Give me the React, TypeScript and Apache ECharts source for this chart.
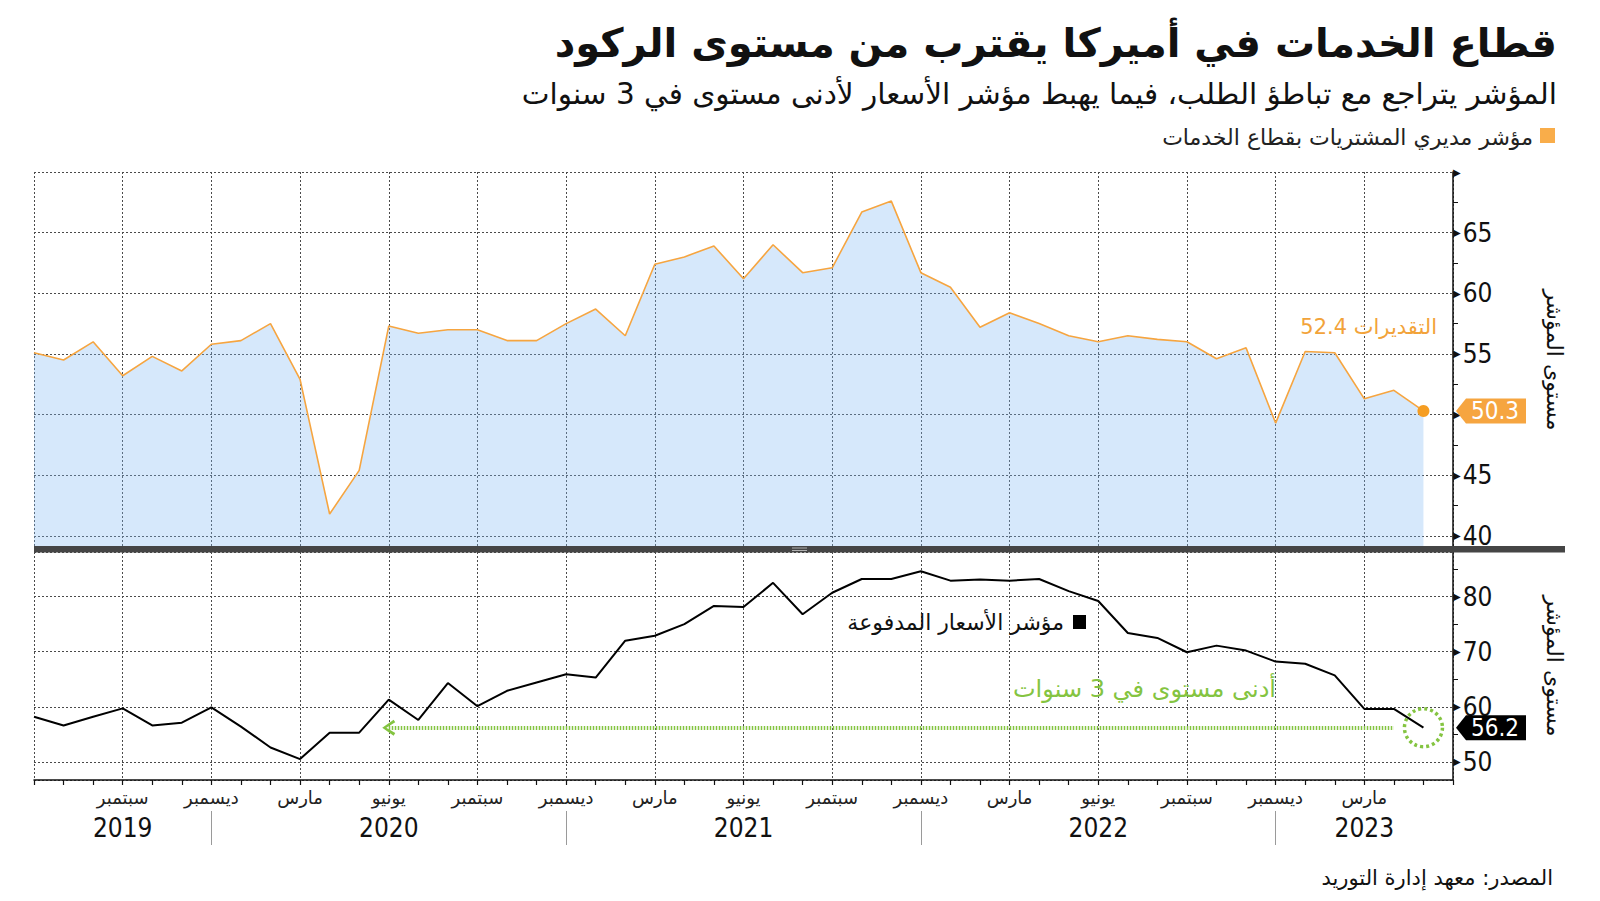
import React, { useEffect, useRef } from 'react';
import * as echarts from 'echarts';

// ---------- DATA ----------
const categories = [
  '2019-06', '2019-07', '2019-08', '2019-09', '2019-10', '2019-11', '2019-12',
  '2020-01', '2020-02', '2020-03', '2020-04', '2020-05', '2020-06', '2020-07', '2020-08', '2020-09', '2020-10', '2020-11', '2020-12',
  '2021-01', '2021-02', '2021-03', '2021-04', '2021-05', '2021-06', '2021-07', '2021-08', '2021-09', '2021-10', '2021-11', '2021-12',
  '2022-01', '2022-02', '2022-03', '2022-04', '2022-05', '2022-06', '2022-07', '2022-08', '2022-09', '2022-10', '2022-11', '2022-12',
  '2023-01', '2023-02', '2023-03', '2023-04', '2023-05', '2023-06',
];

// ISM services PMI (top panel)
const servicesPmi = [
  55.1, 54.5, 56.0, 53.2, 54.8, 53.6, 55.8,
  56.1, 57.5, 52.9, 41.8, 45.4, 57.3, 56.7, 57.0, 57.0, 56.1, 56.1, 57.5,
  58.7, 56.5, 62.4, 63.0, 63.9, 61.2, 64.0, 61.7, 62.1, 66.7, 67.6, 61.7,
  60.5, 57.2, 58.4, 57.5, 56.5, 56.0, 56.5, 56.2, 56.0, 54.6, 55.5, 49.3,
  55.2, 55.1, 51.3, 52.0, 50.3, null,
];

// Prices paid index (bottom panel)
const pricesPaid = [
  58.2, 56.6, 58.2, 59.7, 56.6, 57.1, 59.9,
  56.4, 52.6, 50.5, 55.3, 55.3, 61.3, 57.6, 64.3, 60.1, 62.9, 64.4, 65.9,
  65.3, 72.0, 72.9, 75.0, 78.3, 78.1, 82.5, 76.8, 80.7, 83.2, 83.2, 84.6,
  82.9, 83.1, 82.9, 83.2, 81.0, 79.2, 73.4, 72.5, 69.9, 71.1, 70.2, 68.2,
  67.8, 65.7, 59.6, 59.6, 56.2, null,
];

const monthNames: Record<string, string> = {
  '03': 'مارس',
  '06': 'يونيو',
  '09': 'سبتمبر',
  '12': 'ديسمبر',
};

const yearLabels: Record<string, string> = {
  '2019-09': '2019',
  '2020-06': '2020',
  '2021-06': '2021',
  '2022-06': '2022',
  '2023-03': '2023',
};

const yearBreaks = ['2019-12', '2020-12', '2021-12', '2022-12'];

const lastIdx = 47;
const lowStartIdx = 12; // June 2020, previous comparable level
const lowEndIdx = 46;

// ---------- STYLE ----------
const ORANGE = '#f6a540';
const GREEN = '#84c441';
const GRID_LINE = { color: '#4a4a4a', width: 1, type: [2, 2] as number[] };
const ARROW_BOX = 'path://M0,12 L10,0 L70,0 L70,24 L10,24 Z';
const CHEVRON = 'path://M0,14 L9,0 L18,14 L15,16 L9,5 L3,16 Z';
const AR_FONT = 'DejaVu Sans';
const NUM_FONT = 'DejaVu Sans Condensed';

export default function App() {
  const ref = useRef<HTMLDivElement>(null);

  useEffect(() => {
    if (!ref.current) return;
    const chart = echarts.init(ref.current, undefined, { renderer: 'svg' });

    const yLabel = (hide: number[], step: number, top?: number) => ({
      margin: 0,
      formatter: (v: number) => {
        const r = Math.round(v * 10) / 10;
        if (Math.abs(r % step) > 1e-6) return '';
        if (r === top || hide.includes(r)) return '{t|▶}';
        return `{t|▶}{v|${r}}`;
      },
      rich: {
        t: { fontSize: 10, color: '#111', fontFamily: AR_FONT, padding: [0, 2, 0, 0] },
        v: { fontSize: 26, color: '#111', fontFamily: NUM_FONT },
      },
    });

    const option: any = {
      animation: false,
      backgroundColor: '#ffffff',
      textStyle: { fontFamily: AR_FONT },
      grid: [
        { left: 34, right: 147, top: 172, height: 376 },
        { left: 34, right: 147, top: 552, height: 228 },
        { left: 34, right: 147, top: 811, height: 34 },
      ],
      xAxis: [
        {
          gridIndex: 0,
          type: 'category',
          data: categories,
          boundaryGap: false,
          axisLine: { show: false },
          axisTick: { show: false },
          axisLabel: { show: false },
          splitLine: { show: true, interval: (i: number) => i % 3 === 0, lineStyle: GRID_LINE },
        },
        {
          gridIndex: 1,
          type: 'category',
          data: categories,
          boundaryGap: false,
          axisLine: { show: true, onZero: false, lineStyle: { color: '#111', width: 1.5 } },
          axisTick: { show: true, interval: 0, length: 5, lineStyle: { color: '#111', width: 1.2 } },
          axisLabel: {
            interval: (i: number) => i % 3 === 0 && i > 0 && i < categories.length - 1,
            margin: 6,
            formatter: (val: string) => {
              const name = monthNames[val.slice(5)] || '';
              const y = yearLabels[val];
              return y ? `{m|${name}}\n{y|${y}}` : `{m|${name}}`;
            },
            rich: {
              m: { fontSize: 18, lineHeight: 22, color: '#222', fontFamily: AR_FONT },
              y: { fontSize: 26, lineHeight: 39, color: '#111', fontFamily: NUM_FONT },
            },
          },
          splitLine: { show: true, interval: (i: number) => i % 3 === 0, lineStyle: GRID_LINE },
        },
        {
          gridIndex: 2,
          type: 'category',
          data: categories,
          boundaryGap: false,
          axisLine: { show: false },
          axisTick: { show: false },
          axisLabel: { show: false },
          splitLine: {
            show: true,
            interval: (i: number) => yearBreaks.includes(categories[i]),
            lineStyle: { color: '#9a9a9a', width: 1, type: 'solid' },
          },
        },
      ],
      yAxis: [
        {
          gridIndex: 0,
          type: 'value',
          position: 'right',
          min: 39,
          max: 70,
          splitNumber: 5,
          axisLine: { show: true, onZero: false, lineStyle: { color: '#111', width: 1.5 } },
          axisTick: { show: false },
          minorTick: { show: true, splitNumber: 2, length: 5, lineStyle: { color: '#111', width: 1 } },
          splitLine: { show: true, lineStyle: GRID_LINE },
          axisLabel: yLabel([50], 5, 70),
          name: 'مستوى المؤشر',
          nameLocation: 'middle',
          nameRotate: -90,
          nameGap: 90,
          nameTextStyle: { fontSize: 22, color: '#111', fontFamily: AR_FONT },
        },
        {
          gridIndex: 1,
          type: 'value',
          position: 'right',
          min: 46.7,
          max: 88.1,
          splitNumber: 5,
          axisLine: { show: true, onZero: false, lineStyle: { color: '#111', width: 1.5 } },
          axisTick: { show: false },
          minorTick: { show: true, splitNumber: 2, length: 5, lineStyle: { color: '#111', width: 1 } },
          splitLine: { show: true, lineStyle: GRID_LINE },
          axisLabel: yLabel([], 10),
          name: 'مستوى المؤشر',
          nameLocation: 'middle',
          nameRotate: -90,
          nameGap: 90,
          nameTextStyle: { fontSize: 22, color: '#111', fontFamily: AR_FONT },
        },
        {
          gridIndex: 2,
          type: 'value',
          show: false,
          min: 0,
          max: 1,
        },
      ],
      series: [
        {
          name: 'مؤشر مديري المشتريات بقطاع الخدمات',
          type: 'line',
          xAxisIndex: 0,
          yAxisIndex: 0,
          data: servicesPmi,
          symbol: 'none',
          silent: true,
          lineStyle: { color: ORANGE, width: 1.6 },
          areaStyle: { color: 'rgba(128,184,242,0.46)', origin: 'start' },
          markPoint: {
            silent: true,
            data: [
              {
                coord: [categories[lastIdx], servicesPmi[lastIdx]],
                symbol: 'circle',
                symbolSize: 12,
                itemStyle: { color: '#f59d22' },
                label: { show: false },
              },
              {
                coord: [categories[lastIdx + 1], servicesPmi[lastIdx]],
                symbol: ARROW_BOX,
                symbolSize: [70, 25],
                symbolOffset: [38, 0],
                symbolKeepAspect: false,
                itemStyle: { color: ORANGE },
                label: {
                  show: true,
                  position: 'inside',
                  formatter: String(servicesPmi[lastIdx]),
                  color: '#fff',
                  fontSize: 24,
                  fontFamily: NUM_FONT,
                  offset: [4, 0],
                },
              },
            ],
          },
        },
        {
          name: 'مؤشر الأسعار المدفوعة',
          type: 'line',
          xAxisIndex: 1,
          yAxisIndex: 1,
          data: pricesPaid,
          symbol: 'none',
          silent: true,
          lineStyle: { color: '#000', width: 2 },
          markLine: {
            silent: true,
            symbol: [CHEVRON, 'none'],
            symbolSize: [16, 13],
            label: { show: false },
            emphasis: { disabled: true },
            lineStyle: { color: GREEN, width: 4, type: [1.5, 1.5] },
            data: [
              [
                { coord: [categories[lowStartIdx], pricesPaid[lastIdx]] },
                { coord: [categories[lowEndIdx], pricesPaid[lastIdx]] },
              ],
            ],
          },
          markPoint: {
            silent: true,
            data: [
              {
                coord: [categories[lastIdx], pricesPaid[lastIdx]],
                symbol: 'circle',
                symbolSize: 38,
                itemStyle: { color: 'rgba(0,0,0,0)', borderColor: GREEN, borderWidth: 3.5, borderType: [3, 3] },
                label: { show: false },
              },
              {
                coord: [categories[lastIdx + 1], pricesPaid[lastIdx]],
                symbol: ARROW_BOX,
                symbolSize: [70, 25],
                symbolOffset: [38, 0],
                symbolKeepAspect: false,
                itemStyle: { color: '#000' },
                label: {
                  show: true,
                  position: 'inside',
                  formatter: String(pricesPaid[lastIdx]),
                  color: '#fff',
                  fontSize: 24,
                  fontFamily: NUM_FONT,
                  offset: [4, 0],
                },
              },
            ],
          },
        },
      ],
      graphic: [
        {
          type: 'text', x: 1557, y: 43, z: 100,
          style: {
            text: 'قطاع الخدمات في أميركا يقترب من مستوى الركود',
            fontSize: 40, fontWeight: 'bold', fontFamily: AR_FONT, fill: '#111',
            align: 'right', verticalAlign: 'middle',
          },
        },
        {
          type: 'text', x: 1557, y: 94, z: 100,
          style: {
            text: 'المؤشر يتراجع مع تباطؤ الطلب، فيما يهبط مؤشر الأسعار لأدنى مستوى في 3 سنوات',
            fontSize: 29.5, fontFamily: AR_FONT, fill: '#111',
            align: 'right', verticalAlign: 'middle',
          },
        },
        { type: 'rect', z: 100, shape: { x: 1540, y: 128, width: 15, height: 15 }, style: { fill: '#f9ad4a' } },
        {
          type: 'text', x: 1533, y: 137, z: 100,
          style: {
            text: 'مؤشر مديري المشتريات بقطاع الخدمات',
            fontSize: 22, fontFamily: AR_FONT, fill: '#222',
            align: 'right', verticalAlign: 'middle',
          },
        },
        { type: 'rect', z: 100, shape: { x: 34, y: 546, width: 1531, height: 6.5 }, style: { fill: '#454545' } },
        { type: 'rect', z: 101, shape: { x: 792, y: 547.5, width: 15, height: 1 }, style: { fill: '#b0b0b0' } },
        { type: 'rect', z: 101, shape: { x: 792, y: 550, width: 15, height: 1 }, style: { fill: '#b0b0b0' } },
        {
          type: 'text', x: 1437, y: 327, z: 100,
          style: {
            text: 'التقديرات 52.4',
            fontSize: 21, fontFamily: AR_FONT, fill: '#f2a33a',
            align: 'right', verticalAlign: 'middle',
          },
        },
        { type: 'rect', z: 100, shape: { x: 1073, y: 615, width: 13, height: 14 }, style: { fill: '#000' } },
        {
          type: 'text', x: 1064, y: 622, z: 100,
          style: {
            text: 'مؤشر الأسعار المدفوعة',
            fontSize: 22, fontFamily: AR_FONT, fill: '#111',
            align: 'right', verticalAlign: 'middle',
          },
        },
        {
          type: 'text', x: 1276, y: 689, z: 100,
          style: {
            text: 'أدنى مستوى في 3 سنوات',
            fontSize: 24, fontFamily: AR_FONT, fill: GREEN,
            align: 'right', verticalAlign: 'middle',
          },
        },
        {
          type: 'text', x: 1553, y: 878, z: 100,
          style: {
            text: 'المصدر: معهد إدارة التوريد',
            fontSize: 21, fontFamily: AR_FONT, fill: '#111',
            align: 'right', verticalAlign: 'middle',
          },
        },
      ],
    };

    chart.setOption(option);
    return () => chart.dispose();
  }, []);

  return (
    <div
      ref={ref}
      style={{ position: 'fixed', left: 0, top: 0, width: 1600, height: 901, background: '#fff' }}
    />
  );
}
